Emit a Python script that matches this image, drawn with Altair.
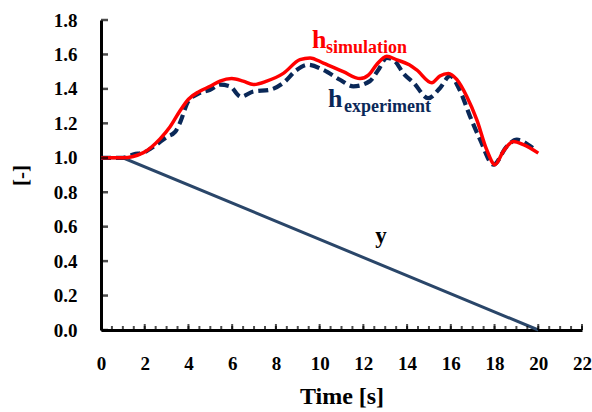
import altair as alt
import pandas as pd

# --- data ---
t_sim = [0, 1.0, 1.94, 2.7, 3.16, 3.6, 4.0, 4.5, 4.99, 5.44, 5.98, 6.5, 6.97, 7.58, 8.34, 9.1, 9.56,
         10.17, 11.08, 11.85, 12.23, 12.6, 13.07, 13.5, 14.1, 14.44, 15.13, 15.5, 15.89, 16.27, 16.73,
         17.19, 17.64, 18.02, 18.4, 18.86, 19.32, 20.0]
h_sim = [1.0, 1.0, 1.03, 1.11, 1.18, 1.27, 1.34, 1.385, 1.415, 1.445, 1.46, 1.445, 1.425, 1.445, 1.49,
         1.57, 1.58, 1.55, 1.50, 1.46, 1.48, 1.54, 1.59, 1.57, 1.54, 1.51, 1.435, 1.475, 1.49, 1.455,
         1.356, 1.22, 1.047, 0.96, 1.037, 1.095, 1.076, 1.027]

t_exp = [0, 1.0, 1.5, 1.94, 2.47, 3.0, 3.39, 3.6, 4.0, 4.5, 4.99, 5.44, 5.9, 6.4, 6.97, 7.73, 8.34,
         8.95, 9.48, 10.17, 10.93, 11.54, 12.3, 12.68, 13.07, 13.45, 13.83, 14.3, 14.97, 15.5, 15.97,
         16.4, 16.88, 17.34, 17.95, 18.56, 19.02, 19.78, 19.9]
h_exp = [1.0, 1.0, 1.02, 1.03, 1.07, 1.12, 1.15, 1.2, 1.33, 1.375, 1.395, 1.425, 1.415, 1.355, 1.385,
         1.395, 1.435, 1.51, 1.54, 1.51, 1.453, 1.415, 1.445, 1.51, 1.58, 1.56, 1.49, 1.435, 1.346,
         1.404, 1.475, 1.395, 1.24, 1.105, 0.96, 1.066, 1.105, 1.055, 1.045]

t_y = [0, 1.0, 20.0]
y_val = [1.0, 1.0, 0.0]

x_major_ticks = [0, 2, 4, 6, 8, 10, 12, 14, 16, 18, 20, 22]
x_minor_ticks = [i * 0.5 for i in range(0, 45)]
y_ticks = [0.0, 0.2, 0.4, 0.6, 0.8, 1.0, 1.2, 1.4, 1.6, 1.8]

RED = "#FF0000"
NAVY = "#0A2858"
SLATE = "#2A4669"
FONT = "Times New Roman"

sim_df = pd.DataFrame({"t": t_sim, "v": h_sim})
exp_df = pd.DataFrame({"t": t_exp, "v": h_exp})
y_df = pd.DataFrame({"t": t_y, "v": y_val})

xs = alt.Scale(domain=[0, 22], nice=False, zero=False)
ys = alt.Scale(domain=[0, 1.8], nice=False, zero=False)

x_axis = alt.Axis(values=x_major_ticks, format="d", title="Time [s]", labelPadding=24,
                  labelOverlap=False, titleFontSize=24, titlePadding=11)
y_axis = alt.Axis(values=y_ticks, format=".1f", title="[-]", labelPadding=24,
                  labelOverlap=False, titleFontSize=21, titlePadding=22)

base_y = alt.Chart(y_df).mark_line(color=SLATE, strokeWidth=3).encode(
    x=alt.X("t:Q", scale=xs, axis=x_axis),
    y=alt.Y("v:Q", scale=ys, axis=y_axis),
)

exp_line = alt.Chart(exp_df).mark_line(color=NAVY, strokeWidth=4.2, strokeDash=[10, 5],
                                       interpolate="monotone").encode(
    x=alt.X("t:Q", scale=xs, axis=x_axis), y=alt.Y("v:Q", scale=ys, axis=y_axis))

sim_line = alt.Chart(sim_df).mark_line(color=RED, strokeWidth=3.5, interpolate="monotone").encode(
    x=alt.X("t:Q", scale=xs, axis=x_axis), y=alt.Y("v:Q", scale=ys, axis=y_axis))

# inward ticks
xmaj = alt.Chart(pd.DataFrame({"t": x_major_ticks})).mark_tick(
    orient="vertical", color="black", size=6, thickness=2, yOffset=-3).encode(
    x=alt.X("t:Q", scale=xs, axis=x_axis), y=alt.datum(0, scale=ys, axis=y_axis))
xmin = alt.Chart(pd.DataFrame({"t": x_minor_ticks})).mark_tick(
    orient="vertical", color="black", size=4, thickness=2, yOffset=-2).encode(
    x=alt.X("t:Q", scale=xs, axis=x_axis), y=alt.datum(0, scale=ys, axis=y_axis))
ytk = alt.Chart(pd.DataFrame({"v": y_ticks})).mark_tick(
    orient="horizontal", color="black", size=7, thickness=2.5, xOffset=3.5).encode(
    y=alt.Y("v:Q", scale=ys, axis=y_axis), x=alt.datum(0, scale=xs, axis=x_axis))

def label(text, tx, ty, size, color, align="left"):
    return alt.Chart(pd.DataFrame({"a": [0]})).mark_text(
        text=text, font=FONT, fontSize=size, fontWeight="bold", color=color, align=align,
        baseline="alphabetic").encode(x=alt.datum(tx, scale=xs, axis=x_axis),
                                      y=alt.datum(ty, scale=ys, axis=y_axis))

annots = [
    label("h", 9.65, 1.64, 26, RED),
    label("simulation", 10.29, 1.61, 18, RED),
    label("h", 10.38, 1.297, 26, NAVY),
    label("experiment", 11.12, 1.267, 18, NAVY),
    label("y", 12.81, 0.506, 23, "black", align="center"),
]

chart = alt.layer(base_y, exp_line, sim_line, xmaj, xmin, ytk, *annots).properties(
    width=481, height=310,
    autosize=alt.AutoSizeParams(type="none"),
    padding={"left": 101, "top": 20, "right": 10, "bottom": 82},
    background="white",
).configure_view(stroke=None).configure_axis(
    grid=False, ticks=False, tickSize=0, domainColor="black", domainWidth=3,
    labelFont=FONT, labelFontSize=19, labelFontWeight="bold", labelColor="black",
    labelOverlap=False, labelBound=False, labelFlush=False,
    titleFont=FONT, titleFontWeight="bold", titleColor="black",
)

chart.save("out.html", embed_options={"renderer": "svg", "actions": False})
